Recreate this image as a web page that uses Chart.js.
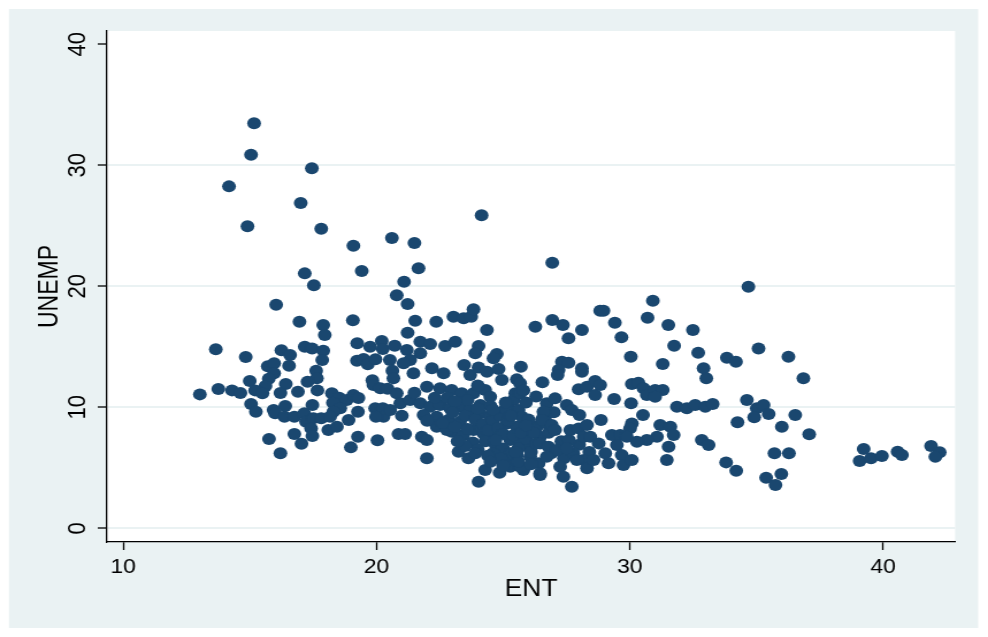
<!DOCTYPE html>
<html>
<head>
<meta charset="utf-8">
<script src="https://cdn.jsdelivr.net/npm/chart.js@4.4.1/dist/chart.umd.min.js"></script>
<style>
html,body{margin:0;padding:0;background:#fff;overflow:hidden;}
/* the stata export is a bit wider than tall, so stretch the canvas sideways */
#wrap{width:859px;height:637px;transform:scaleX(1.1502);transform-origin:0 0;}
</style>
</head>
<body>
<div id="wrap"><canvas id="myChart" width="859" height="637"></canvas></div>
<script>
// ---- data (ENT, UNEMP) ----
// left part, ENT 13-21
let entLeft=[15.17,15.05,17.45,14.18,17.01,14.91,17.82,19.09,20.61,21.5,
  19.42,17.17,17.53,21.66,21.09,20.8,21.23,16.04,
  16.96,19.07,17.9,17.96,13.66,14.84,16.25,16.59,16.55,17.17,
  17.46,17.9,17.86,15.71,15.96,15.96,15.75,15.62,17.62,17.65,
  17.28,16.42,15.0,13.03,13.76,14.3,14.63,15.21,15.5,16.21,
  16.9,17.67,18.24,19.24,19.75,20.21,20.25,20.72,19.23,19.49,
  19.66,19.96,20.53,20.63,20.67,19.84,19.88,20.15,20.44,20.8,
  18.53,18.83,19.09,19.29,18.28,18.57,18.3,19.27,17.47,15.05,
  15.24,15.94,16.0,16.4,16.37,16.76,17.15,17.22,17.51,17.82,
  18.17,17.42,17.47,18.1,18.44,18.9,19.95,20.25,20.28,19.98,
  15.76,16.76,17.04,16.21,19.27,18.99,20.04,20.87];
let unempLeft=[33.47,30.88,29.75,28.26,26.88,24.96,24.76,23.36,23.99,23.58,
  21.26,21.07,20.08,21.49,20.38,19.26,18.54,18.48,
  17.07,17.19,16.8,15.98,14.79,14.16,14.71,14.32,13.44,15.01,
  14.87,14.68,13.91,13.39,13.64,12.81,12.36,11.76,13.03,12.4,
  12.12,11.93,12.17,11.07,11.51,11.4,11.18,11.4,11.16,11.18,
  11.29,11.4,11.16,15.29,15.01,15.48,14.82,15.09,13.85,13.99,
  13.55,13.97,13.91,13.03,12.4,12.23,11.84,11.57,11.54,11.16,
  10.79,10.6,11.02,10.77,10.38,9.92,9.64,9.64,10.19,10.27,
  9.64,9.78,9.5,10.11,9.22,9.22,9.5,8.81,9.09,9.09,
  9.22,8.26,7.63,8.12,8.4,8.95,9.92,9.92,9.22,9.22,
  7.38,7.79,6.99,6.2,7.57,6.69,7.27,7.79];

// middle, ENT 21-27
let entMid=[21.53,22.36,23.04,23.44,23.74,23.83,24.36,26.27,21.23,21.73,
  22.12,22.71,23.11,24.03,23.9,24.75,24.62,21.2,21.73,21.33,
  21.07,21.46,22.19,22.65,23.46,23.7,24.03,24.36,24.82,24.95,
  25.7,25.54,25.67,26.55,21.99,22.51,22.97,23.37,23.83,24.29,
  24.49,25.48,25.41,25.28,20.94,21.33,21.73,22.12,22.51,22.91,
  23.3,23.7,24.09,24.49,20.54,21.86,22.38,22.84,23.3,22.38,
  22.97,23.43,23.83,24.22,24.62,21.13,21.79,21.99,21.99,23.24,
  23.63,24.03,24.29,24.86,25.15,25.54,25.94,26.33,24.88,25.28,
  25.67,26.07,26.46,26.72,26.59,25.54,26.07,26.4,26.46,25.8,
  25.28,25.61,25.74,26.72,26.66];
let unempMid=[17.16,17.07,17.49,17.36,17.49,18.1,16.39,16.66,16.17,15.42,
  15.23,15.07,15.42,15.07,14.46,14.4,14.05,14.74,14.46,13.91,
  13.64,12.81,13.22,12.81,13.5,12.67,13.3,12.94,13.17,12.26,
  13.36,12.31,11.98,12.07,11.7,11.57,11.43,11.16,11.16,11.43,
  10.88,11.16,10.6,9.78,10.33,10.6,10.33,10.05,10.19,9.92,
  10.05,9.78,9.5,9.22,9.78,9.36,9.22,8.95,8.81,8.4,
  7.98,7.71,8.12,7.85,7.57,7.79,7.57,7.3,5.79,6.33,
  5.79,3.85,4.82,4.6,8.67,8.4,8.12,8.4,7.85,7.3,
  7.02,6.74,7.57,8.67,9.22,6.06,5.92,5.37,4.4,4.82,
  5.37,9.78,9.22,10.33,9.22];

// the crowded core round ENT 22-28, UNEMP 5-12
let entCore=[25.67,22.78,25.28,25.67,
  23.5,23.9,24.2,24.6,24.9,25.1,24.4,24.8,25.0,24.3,
  24.7,25.0,25.3,25.6,25.9,26.2,25.4,25.7,25.2,24.6,
  24.9,25.6,23.8,23.5,24.0,24.4,22.6,23.1,26.0,25.9,
  25.1,24.1,23.6,22.8,23.1,26.1,26.3,25.8,
  24.5,24.0,22.3,21.5,21.0,22.0,23.6,24.0,25.3,25.9,
  26.3,25.5,24.5,25.0,26.1,24.7,23.2,23.0,24.6,23.9,
  26.8,26.9,27.3,27.0,27.4,28.0,27.6,28.4];
let unempCore=[11.16,8.12,5.09,5.09,
  9.3,9.0,8.6,8.9,9.3,9.9,8.1,8.3,7.8,7.2,
  6.9,6.6,6.2,6.6,7.4,7.9,7.7,7.9,8.9,6.2,
  5.8,5.5,7.1,6.8,6.5,6.0,8.7,8.4,9.0,10.4,
  10.4,10.2,10.6,10.8,10.5,6.3,10.9,11.4,
  10.1,11.8,10.8,11.2,9.3,8.9,8.2,9.9,9.3,8.5,
  7.0,6.3,5.5,5.2,5.3,7.3,7.2,9.6,9.8,6.2,
  7.9,6.2,7.2,9.6,5.8,6.9,7.3,6.3];

// ENT 24-33
let entRight=[24.15,26.94,34.68,30.91,28.83,28.96,30.7,26.94,27.36,28.11,
  29.41,31.52,32.49,27.58,29.67,31.75,32.7,30.04,31.3,32.91,
  33.02,27.32,27.58,27.19,27.15,28.11,28.11,27.98,28.31,28.63,
  28.83,28.63,29.38,30.08,30.34,30.54,30.67,31.0,31.3,31.0,
  30.05,31.86,32.25,32.58,32.98,30.52,27.05,26.59,26.53,27.51,
  27.71,28.01,28.86,26.92,27.05,27.65,27.98,28.31,28.18,28.44,
  30.08,30.01,29.29,29.62,29.88,31.2,31.6,31.73,31.07,30.67,
  30.28,31.53,31.46,32.84,33.11,28.77,29.03,29.16,29.49,29.68,
  29.75,30.08,26.46,26.79,27.12,26.72,26.46,27.25,27.38,27.71,
  27.77,28.18,28.31,28.57,27.51,27.91];
let unempRight=[25.87,21.95,19.97,18.81,17.99,17.99,17.41,17.21,16.8,16.39,
  16.99,16.8,16.39,15.7,15.79,15.09,14.51,14.18,13.58,13.22,
  12.4,13.77,13.69,13.08,12.67,13.22,12.94,11.49,11.7,12.17,
  11.84,11.02,10.69,11.93,12.03,11.57,11.02,11.43,11.43,10.88,
  10.33,10.05,9.92,10.19,10.05,9.36,10.74,9.64,8.95,10.19,
  9.78,9.36,8.95,8.54,8.12,8.12,8.26,8.54,7.57,7.57,
  8.67,8.26,7.71,7.71,7.57,8.54,8.4,7.71,7.57,7.3,
  7.16,6.74,5.64,7.3,6.88,7.02,6.2,5.37,6.88,6.06,
  5.23,5.64,7.02,6.74,6.47,5.92,4.55,5.09,4.26,3.44,
  6.2,5.64,4.96,5.64,6.61,5.64];

// far right, ENT 33-42
let entFar=[35.08,33.83,34.19,36.26,36.85,33.27,34.62,35.01,35.28,35.48,
  34.91,34.25,36.53,36.0,37.08,33.8,34.2,35.71,36.28,35.38,
  35.75,35.98,39.23,39.07,39.52,39.95,40.57,40.74,41.89,42.23,42.06];
let unempFar=[14.87,14.1,13.77,14.18,12.4,10.27,10.6,9.92,10.19,9.45,
  9.17,8.76,9.36,8.4,7.77,5.45,4.76,6.2,6.2,4.18,
  3.58,4.49,6.55,5.56,5.79,5.98,6.33,6.06,6.8,6.28,5.92];

let xTicks=[10,20,30,40];
let yTicks=[0,10,20,30,40];

// ---- build points ----
let ent=entLeft.concat(entMid,entCore,entRight,entFar);
let unemp=unempLeft.concat(unempMid,unempCore,unempRight,unempFar);
let pts=[];
for (let i=0;i<ent.length;i++){
  pts.push({x:ent[i],y:unemp[i]});
}

const lightBlue="rgb(234,242,243)";
const navy="#1a476f";

// stata look: white edge, light graph region, white plot region
const stataBg={
  id:"stataBg",
  beforeDraw(chart){
    let c=chart.ctx, a=chart.chartArea;
    c.save();
    c.fillStyle="#fff";
    c.fillRect(0,0,chart.width,chart.height);
    c.fillStyle=lightBlue;
    c.fillRect(7.8,9,842.6,619);
    c.fillStyle="#fff";
    c.fillRect(a.left,a.top,a.right-a.left,a.bottom-a.top);
    c.restore();
  }
};

new Chart("myChart",{
  type:"scatter",
  data:{
    datasets:[{
      data:pts,
      backgroundColor:navy,
      borderWidth:0,
      pointRadius:6,
      pointHoverRadius:6
    }]
  },
  plugins:[stataBg],
  options:{
    responsive:false,
    animation:false,
    events:[],
    layout:{padding:{left:0,top:31,right:28.6,bottom:0}},
    plugins:{legend:{display:false},tooltip:{enabled:false}},
    scales:{
      x:{
        type:"linear",
        min:9.364,max:42.84,
        afterBuildTicks:s=>{s.ticks=xTicks.map(v=>({value:v}));},
        afterFit:s=>{s.height=95;},
        grid:{drawOnChartArea:false,drawTicks:true,tickLength:8,tickColor:"#000",tickWidth:1.3},
        border:{display:true,color:"#000",width:1.3},
        ticks:{color:"#000",font:{family:"Liberation Sans, Arial",size:20},padding:5,maxRotation:0,autoSkip:false},
        title:{display:true,text:"ENT",color:"#000",font:{family:"Liberation Sans, Arial",size:23},padding:{top:0,bottom:34}}
      },
      y:{
        type:"linear",
        min:-1.13,max:41.1,
        afterBuildTicks:s=>{s.ticks=yTicks.map(v=>({value:v}));},
        afterFit:s=>{s.width=93;},
        grid:{
          color:ctx=>(ctx.tick && ctx.tick.value===40) ? "rgba(0,0,0,0)" : lightBlue,
          lineWidth:2,drawTicks:true,tickLength:8,tickColor:"#000",tickWidth:1.3
        },
        border:{display:true,color:"#000",width:1.3},
        ticks:{color:"#000",font:{family:"Liberation Sans, Arial",size:22},padding:5,
          minRotation:90,maxRotation:90,crossAlign:"center",autoSkip:false},
        title:{display:true,text:"UNEMP",color:"#000",font:{family:"Liberation Sans, Arial",size:23},padding:{top:30,bottom:0}}
      }
    }
  }
});
</script>
</body>
</html>
